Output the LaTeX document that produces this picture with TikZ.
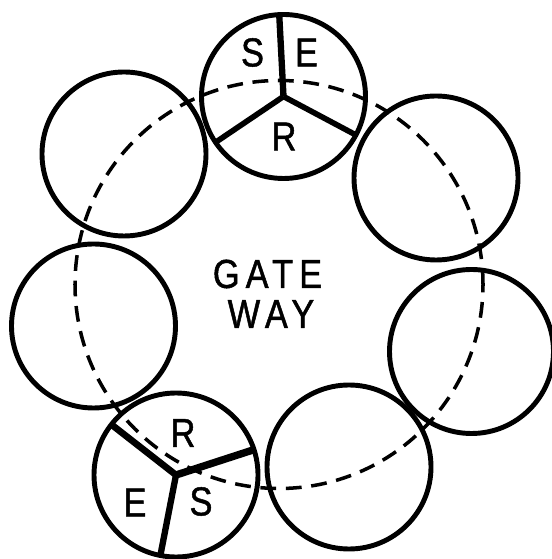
\documentclass[tikz,border=0pt]{standalone}
\usepackage{fontspec}
\setmainfont{Liberation Sans}[FakeStretch=0.85,FakeBold=1.2]
\newfontfamily\gatefont{Liberation Sans}[FakeStretch=0.85,FakeBold=1.2,LetterSpace=15]
\begin{document}
\begin{tikzpicture}[font=\fontsize{23}{28}\selectfont,
    ring/.style={circle, draw, line width=2.8pt, minimum size=3.28cm, inner sep=0pt, outer sep=0pt},
    spoke/.style={line width=3.2pt},
    letter/.style={inner sep=0pt}]
    \useasboundingbox (0,0) rectangle (11.02,11.18);
    \draw[line width=2pt, dash pattern=on 9pt off 5.5pt] (5.58,5.49) circle (4.08);
    \node[ring] (top) at (5.67,9.25) {};
    \node[ring] (upleft) at (2.48,8.10) {};
    \node[ring] (left) at (1.87,4.66) {};
    \node[ring] (lowleft) at (3.52,1.68) {};
    \node[ring] (low) at (6.98,1.84) {};
    \node[ring] (lowright) at (9.43,4.15) {};
    \node[ring] (upright) at (8.72,7.62) {};
    \draw[spoke, line width=3.6pt] (top.center) -- (top.93);
    \draw[spoke] (top.center) -- (top.214);
    \draw[spoke] (top.center) -- (top.332);
    \draw[spoke, line width=3.8pt] (lowleft.center) -- (lowleft.142);
    \draw[spoke, line width=4.2pt] (lowleft.center) -- (lowleft.18);
    \draw[spoke, line width=3.6pt] (lowleft.center) -- (lowleft.259);
    \node[letter] (topS) at (5.05,10.13) {S};
    \node[letter] (topE) at (6.13,10.13) {E};
    \node[letter] (topR) at (5.68,8.45) {R};
    \node[letter] (lowR) at (3.66,2.52) {R};
    \node[letter] (lowE) at (2.70,1.13) {E};
    \node[letter] (lowS) at (4.02,1.15) {S};
    \node[letter, font=\fontsize{23}{28}\gatefont] (gate) at (5.35,5.70) {GATE};
    \node[letter, font=\fontsize{23}{28}\gatefont] (way) at (5.42,4.90) {WAY};
\end{tikzpicture}
\end{document}
